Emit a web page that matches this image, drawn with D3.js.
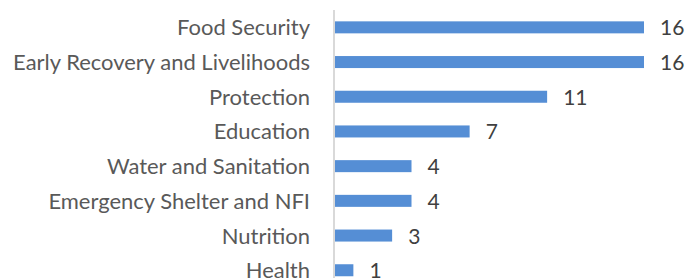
<!DOCTYPE html>
<html><head><meta charset="utf-8">
<script src="https://cdn.jsdelivr.net/npm/d3@7"></script>
<style>body{margin:0;background:#fff}svg{display:block}</style>
</head><body>
<svg id="c" width="685" height="278"></svg>
<script>
const categories = ["Food Security","Early Recovery and Livelihoods","Protection","Education","Water and Sanitation","Emergency Shelter and NFI","Nutrition","Health"];
const values = [16,16,11,7,4,4,3,1];

const svg = d3.select("#c");
const x = d3.scaleLinear().domain([0,16]).range([334,644]);
const y = d3.scaleBand().domain(categories).range([10,287.6]).paddingInner(0.654).paddingOuter(0.327);
const font = "Lato, 'Open Sans', sans-serif";

svg.selectAll("rect.bar").data(categories).join("rect")
  .attr("class","bar")
  .attr("x", x(0)+1)
  .attr("y", d=>y(d))
  .attr("width", (d,i)=>x(values[i])-x(0)-1)
  .attr("height", y.bandwidth())
  .attr("fill","#558ed5");

svg.append("line").attr("x1",334).attr("x2",334).attr("y1",10).attr("y2",278)
  .attr("stroke","#d9d9d9").attr("stroke-width",2);

const cats = svg.selectAll("text.cat").data(categories).join("text")
  .attr("class","cat")
  .attr("x",310).attr("y",d=>y(d)+y.bandwidth()/2+8)
  .attr("text-anchor","end").attr("font-family",font).attr("font-size",22)
  .attr("fill","#595959").text(d=>d);

// fit longest label to the reference width (~297px)
const longest = cats.filter((d,i)=>i===1).node();
const w = longest.getComputedTextLength();
const fs = 22 * 297 / w;
cats.attr("font-size", fs);

svg.selectAll("text.val").data(categories).join("text")
  .attr("class","val")
  .attr("x",(d,i)=>x(values[i])+16).attr("y",d=>y(d)+y.bandwidth()/2+8)
  .attr("font-family",font).attr("font-size",Math.min(fs,21))
  .attr("fill","#404040").text((d,i)=>values[i]);
</script>
</body></html>
